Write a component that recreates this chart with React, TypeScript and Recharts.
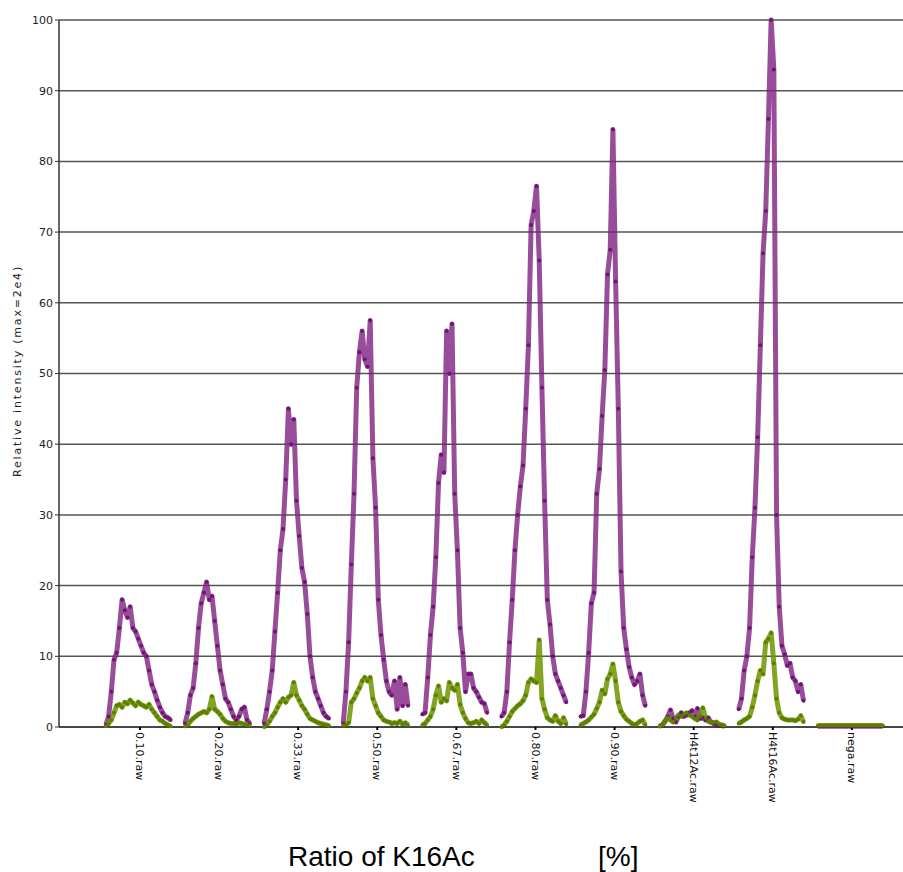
import { LineChart, Line, XAxis, YAxis, CartesianGrid } from 'recharts'

// sample traces per raw file, relative intensity (% of 2e4), 25 samples each
const categories = ['0.10.raw', '0.20.raw', '0.33.raw', '0.50.raw', '0.67.raw', '0.80.raw', '0.90.raw', 'H4t12Ac.raw', 'H4t16Ac.raw', 'nega.raw']
const yTicks = [0, 10, 20, 30, 40, 50, 60, 70, 80, 90, 100]

const p010 = [0.3, 1.5, 5, 9.5, 10.5, 14, 18, 16.5, 15.5, 17, 14, 13.5, 12.5, 11.5, 10.5, 10, 8, 6, 5, 3.8, 2.8, 2, 1.5, 1.3, 1]
const p020 = [0.5, 2, 4.5, 5.5, 9, 14, 17.5, 19, 20.5, 18, 18.5, 15, 11.5, 8, 6, 4, 3.5, 2.5, 1.5, 1, 1.5, 2.5, 2.8, 1, 0.5]
const p033 = [0.5, 2.5, 5, 8, 13.5, 19, 25, 28, 35, 45, 40, 43.5, 32, 27, 22.5, 20.5, 16, 10, 7, 5, 4, 3, 2, 1.5, 1.2]
const p050 = [0.5, 5, 12, 23, 33, 48, 53, 56, 52, 51, 57.5, 38, 31, 18, 13, 9.5, 6.5, 5, 4.5, 6.5, 2.5, 7, 3, 6, 3]
const p067 = [1.8, 2, 7, 13, 17, 24, 34.5, 38.5, 36, 56, 50, 57, 33, 25, 14, 10.5, 5, 7.5, 7.5, 5.5, 5, 4.2, 3.5, 3.3, 2]
const p080 = [1.5, 2, 5, 12, 18, 25, 30, 34, 37, 45, 54, 71, 73, 76.5, 66, 48, 32, 18, 14.5, 10, 7.5, 6.5, 5.5, 4.5, 3.5]
const p090 = [1.5, 1.6, 5, 10.5, 17.5, 19, 33, 36.5, 44, 50.5, 64, 67.5, 84.5, 63, 45, 22, 14, 11, 8.5, 7, 6, 6.5, 7.5, 4.5, 3]
const p12 = [0.1, 0.3, 0.8, 1.5, 2.4, 1.2, 0.7, 1.5, 2, 1.5, 1.7, 2, 2.3, 1.5, 2.6, 1.2, 1.3, 1, 1.3, 0.7, 0.5, 0.3, 0.2, 0.2, 0.1]
const p16 = [2.5, 4, 8, 10, 14, 24, 31, 41, 54, 67, 73, 86, 100, 93, 30, 17, 11.5, 10.3, 8.7, 9, 7, 6.5, 5, 6, 3.7]
const pNega = [0.1, 0.1, 0.1, 0.1, 0.1, 0.1, 0.1, 0.1, 0.1, 0.1, 0.1, 0.1, 0.1, 0.1, 0.1, 0.1, 0.1, 0.1, 0.1, 0.1, 0.1, 0.1, 0.1, 0.1, 0.1]

const g010 = [0.1, 0.5, 1, 2, 3, 3.2, 2.8, 3.5, 3.3, 3.8, 3.4, 3, 3.5, 3.2, 3, 2.8, 3.2, 2.5, 2, 1.5, 1, 0.8, 0.5, 0.3, 0.1]
const g020 = [0.1, 0.3, 0.8, 1.2, 1.5, 1.8, 2, 2.2, 2, 2.5, 4.3, 2.5, 2.2, 1.8, 1.2, 0.8, 0.6, 0.5, 0.5, 0.4, 0.6, 0.5, 0.4, 0.3, 0.2]
const g033 = [0, 0.3, 0.8, 1.5, 2, 2.8, 3.5, 4, 3.5, 4.2, 4.5, 6.3, 4.5, 3.8, 3, 2.5, 1.8, 1.2, 1, 0.8, 0.6, 0.5, 0.4, 0.3, 0.2]
const g050 = [0.2, 0.3, 0.6, 3.5, 4, 4.8, 5.5, 6.5, 7, 6.5, 7, 4, 3, 2, 1.5, 1, 0.8, 0.7, 0.5, 0.6, 0.5, 0.8, 0.4, 0.6, 0.3]
const g067 = [0.3, 0.5, 1, 1.5, 2.5, 4.5, 5.8, 3.5, 4, 3.7, 6.3, 5.5, 5.2, 6, 3.2, 2, 1.2, 0.6, 0.5, 0.6, 0.8, 0.5, 1, 0.6, 0.3]
const g080 = [0, 0.3, 0.8, 1.5, 2.2, 2.6, 3, 3.3, 3.7, 4.5, 6.3, 6.8, 6.5, 6.3, 12.3, 4, 2.5, 1.3, 1, 0.8, 1.6, 0.8, 0.5, 1.3, 0.4]
const g090 = [0.3, 0.5, 0.7, 1, 1.4, 1.8, 2.6, 3.5, 5.2, 4.7, 6.8, 7.5, 8.9, 6.5, 3.5, 2.2, 1.6, 1.1, 0.8, 0.5, 0.3, 0.5, 0.8, 1, 0.3]
const g12 = [0.1, 0.3, 0.8, 1.3, 1, 0.7, 1.2, 1.7, 1.5, 1.8, 2, 1.7, 1.5, 1.2, 1, 1.5, 2.7, 1.3, 0.8, 0.7, 0.6, 0.7, 0.4, 0.3, 0.2]
const g16 = [0.5, 0.7, 1, 1.2, 1.5, 2.8, 4.5, 6.5, 8, 7.5, 12, 12.5, 13.3, 9, 4, 2, 1.3, 1.1, 1, 1, 1, 0.9, 1.1, 1.6, 0.7]
const gNega = [0.2, 0.2, 0.2, 0.2, 0.2, 0.2, 0.2, 0.2, 0.2, 0.2, 0.2, 0.2, 0.2, 0.2, 0.2, 0.2, 0.2, 0.2, 0.2, 0.2, 0.2, 0.2, 0.2, 0.2, 0.2]

const purpleRuns = [p010, p020, p033, p050, p067, p080, p090, p12, p16, pNega]
const greenRuns = [g010, g020, g033, g050, g067, g080, g090, g12, g16, gNega]

// sample position inside each file's slot (slot centre = category index)
const RUN_START = -0.43
const RUN_STEP = 0.0341

const data: { x: number; purple: number | null; green: number | null }[] = []
purpleRuns.forEach((run, k) => {
  run.forEach((v, i) => {
    data.push({ x: k + RUN_START + i * RUN_STEP, purple: v, green: greenRuns[k][i] })
  })
  data.push({ x: k + 0.5, purple: null, green: null })
})

const FONT = '"DejaVu Sans", Verdana, sans-serif'

function CategoryTick({ x, y, payload }: any) {
  return (
    <text
      x={x}
      y={y}
      dy="0.35em"
      transform={`rotate(90 ${x} ${y})`}
      textAnchor="start"
      fontSize={11}
      fontFamily={FONT}
      fill="#111"
    >
      {categories[payload.value]}
    </text>
  )
}

function YLabel() {
  return (
    <text
      x={17}
      y={371}
      transform="rotate(-90 17 371)"
      textAnchor="middle"
      dominantBaseline="central"
      fontSize={11}
      letterSpacing={1.8}
      fontFamily={FONT}
      fill="#222"
    >
      Relative intensity (max=2e4)
    </text>
  )
}

export default function App() {
  return (
    <div style={{ position: 'absolute', left: 0, top: 0, width: 903, height: 872, background: '#fff' }}>
      <LineChart width={903} height={872} data={data} margin={{ top: 20, right: 0, bottom: 0, left: 0 }}>
        <CartesianGrid vertical={false} stroke="#555" strokeWidth={1.5} />
        <XAxis
          type="number"
          dataKey="x"
          domain={[-1.023, 9.646]}
          allowDataOverflow
          ticks={categories.map((_, i) => i)}
          interval={0}
          tick={<CategoryTick />}
          tickSize={3}
          tickMargin={2}
          tickLine={{ stroke: '#000', strokeWidth: 2 }}
          axisLine={{ stroke: '#333', strokeWidth: 1.5 }}
          height={145}
        />
        <YAxis
          type="number"
          domain={[0, 100]}
          ticks={yTicks}
          interval={0}
          width={59}
          tickSize={4}
          tick={{ fontSize: 11, fill: '#222', fontFamily: FONT }}
          axisLine={{ stroke: '#333', strokeWidth: 1.5 }}
          tickLine={{ stroke: '#333' }}
          label={{ content: () => <YLabel /> }}
        />
        <Line
          type="linear"
          dataKey="purple"
          stroke="#7e2181"
          strokeOpacity={0.8}
          strokeWidth={5}
          strokeLinejoin="round"
          dot={{ r: 2, fill: '#6f1672', strokeWidth: 0 }}
          connectNulls={false}
          isAnimationActive={false}
        />
        <Line
          type="linear"
          dataKey="green"
          stroke="#6f9400"
          strokeOpacity={0.85}
          strokeWidth={5}
          strokeLinejoin="round"
          dot={{ r: 2, fill: '#5d7f00', strokeWidth: 0 }}
          connectNulls={false}
          isAnimationActive={false}
        />
      </LineChart>
      <div style={{ position: 'absolute', left: 288, top: 843, fontFamily: '"Liberation Sans", Arial, sans-serif', fontSize: 28, lineHeight: '28px', color: '#000', whiteSpace: 'nowrap' }}>
        Ratio of K16Ac
      </div>
      <div style={{ position: 'absolute', left: 598, top: 843, fontFamily: '"Liberation Sans", Arial, sans-serif', fontSize: 28, lineHeight: '28px', color: '#000', whiteSpace: 'nowrap' }}>
        [%]
      </div>
    </div>
  )
}
